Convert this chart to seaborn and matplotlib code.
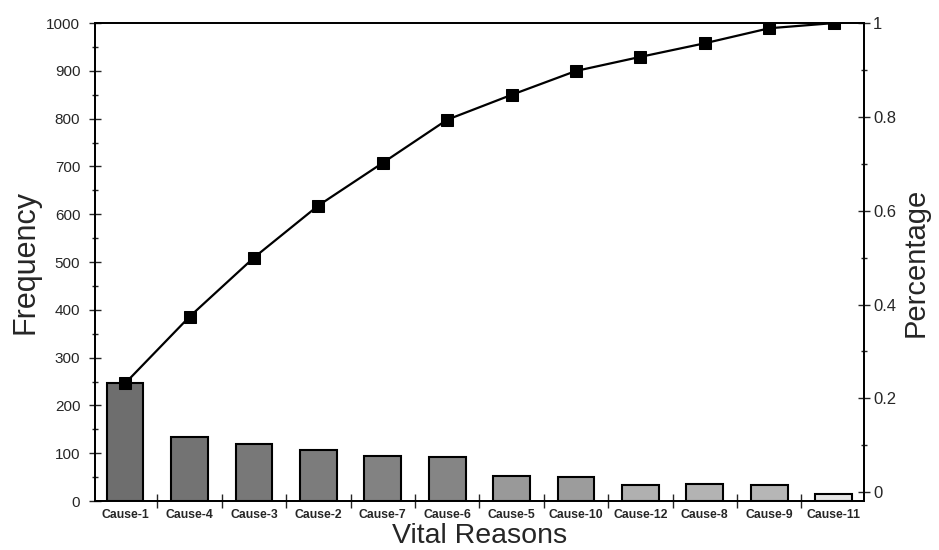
import numpy as np
import pandas as pd
import matplotlib
matplotlib.use('Agg')
import matplotlib.pyplot as plt
import seaborn as sns
from matplotlib.ticker import MultipleLocator, FuncFormatter

# datos
causes = ['Cause-1', 'Cause-4', 'Cause-3', 'Cause-2', 'Cause-7', 'Cause-6',
          'Cause-5', 'Cause-10', 'Cause-12', 'Cause-8', 'Cause-9', 'Cause-11']
frequency = [246, 135, 120, 107, 95, 92, 52, 51, 33, 35, 34, 15]
cum_percentage = [0.232, 0.374, 0.500, 0.611, 0.702, 0.794,
                  0.847, 0.898, 0.928, 0.957, 0.989, 1.0]
bar_colors = ['#6e6e6e', '#737373', '#787878', '#7c7c7c', '#828282', '#858585',
              '#999999', '#9c9c9c', '#b0b0b0', '#b3b3b3', '#b6b6b6', '#e6e6e6']

data = pd.DataFrame({'cause': causes, 'freq': frequency, 'cum_pct': cum_percentage})

sns.set_style('ticks')
plt.rcParams['font.family'] = ['Liberation Sans', 'DejaVu Sans']

fig = plt.figure(figsize=(9.39, 5.5), dpi=100)
ax = fig.add_axes([0.101, 0.089, 0.819, 0.869])

sns.barplot(data=data, x='cause', y='freq', hue='cause', palette=bar_colors,
            legend=False, width=0.57, edgecolor='black', linewidth=1.5,
            saturation=1, ax=ax)

ax.set_xlim(-0.47, 11.47)
ax.set_ylim(0, 1000)
ax.yaxis.set_major_locator(MultipleLocator(100))
ax.yaxis.set_minor_locator(MultipleLocator(50))
ax.tick_params(axis='y', which='major', direction='inout', length=9, width=1,
               labelsize=11, pad=6)
ax.tick_params(axis='y', which='minor', direction='inout', length=5, width=1)
ax.set_xticks(np.arange(len(causes)))
ax.set_xticklabels(causes, fontsize=8.8, fontweight='bold')
ax.set_xticks(np.arange(len(causes) - 1) + 0.5, minor=True)
ax.tick_params(axis='x', which='major', length=0, pad=6)
ax.tick_params(axis='x', which='minor', direction='inout', length=10, width=1)
for s in ax.spines.values():
    s.set_linewidth(1.3)
    s.set_color('black')

ax.set_xlabel('Vital Reasons', fontsize=20.5, labelpad=1)
ax.set_ylabel('Frequency', fontsize=22, labelpad=4)

# eje secundario con el porcentaje acumulado
ax2 = ax.twinx()
sns.lineplot(data=data, x=np.arange(len(causes)), y='cum_pct', ax=ax2,
             color='black', linewidth=1.6, marker='s', markersize=8,
             markeredgecolor='black', markerfacecolor='black')
ax2.set_ylim(-0.019, 1.0)
ax2.yaxis.set_major_locator(MultipleLocator(0.2))
ax2.yaxis.set_minor_locator(MultipleLocator(0.1))
ax2.yaxis.set_major_formatter(FuncFormatter(lambda v, p: '{:g}'.format(round(v, 1))))
ax2.tick_params(axis='y', which='major', direction='inout', length=9, width=1,
                labelsize=12, pad=2)
ax2.tick_params(axis='y', which='minor', direction='inout', length=5, width=1)
ax2.set_ylabel('Percentage', fontsize=21, labelpad=4)
for s in ax2.spines.values():
    s.set_linewidth(1.3)
    s.set_color('black')

fig.savefig('out.png', dpi=100)
